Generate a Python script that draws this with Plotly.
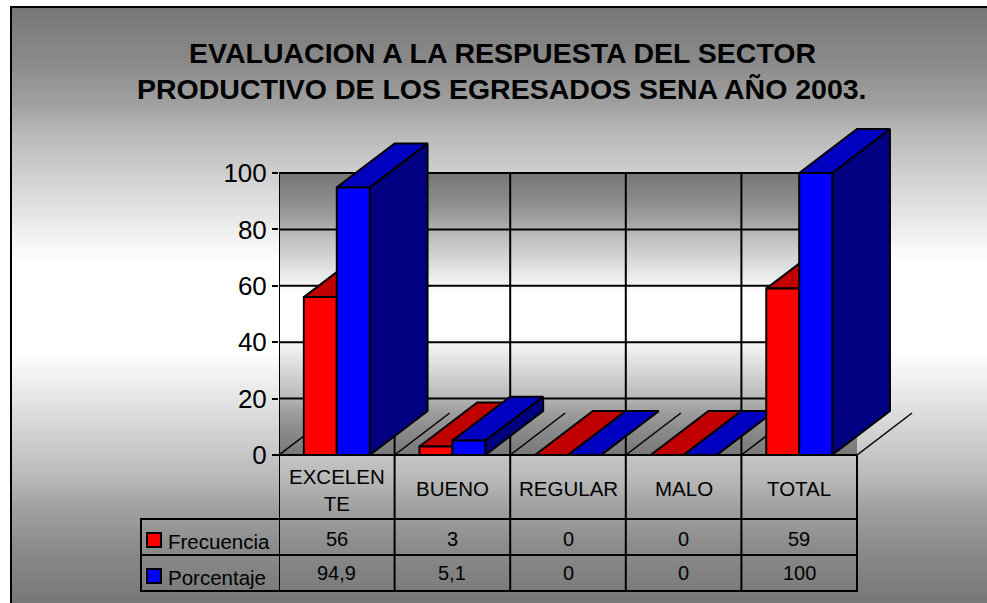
import plotly.graph_objects as go

categories = ["EXCELEN<br>TE", "BUENO", "REGULAR", "MALO", "TOTAL"]
frecuencia = [56, 3, 0, 0, 59]
porcentaje = [94.9, 5.1, 0, 0, 100]
frecuencia_labels = ["56", "3", "0", "0", "59"]
porcentaje_labels = ["94,9", "5,1", "0", "0", "100"]
y_ticks = [0, 20, 40, 60, 80, 100]
title_lines = ["EVALUACION A LA RESPUESTA DEL SECTOR",
               "PRODUCTIVO DE LOS EGRESADOS SENA AÑO 2003."]

W, H = 987, 603
L, WALL_R, WALL_T, B = 279, 857, 173, 455
R, T = 925, 120                 # plot area, big enough for the 3D depth
CAT_PX = (WALL_R - L) / 5
VAL_PX = (B - WALL_T) / 100
X_MAX = (R - L) / CAT_PX - 0.5
Y_MAX = (B - T) / VAL_PX
FONT = "Arial, Liberation Sans, sans-serif"
BAR_W = 0.285
DX, DY = 0.5, 15.6
FLOOR_DX, FLOOR_DY = 0.476, 14.9
GRAY = 119
RAMP = [(0, 0), (.18, .14), (.32, .30), (.42, .48), (.66, .77), (.85, 1), (1, 1)]


def px(x):
    return (x - L) / (R - L)


def py(y):
    return (B - y) / (B - T)


def gray_at(y, top, bottom):
    mid = (top + bottom) / 2
    d = max(0, min(1, 1 - abs(y - mid) / (mid - top)))
    for (a, va), (b, vb) in zip(RAMP, RAMP[1:]):
        if d <= b:
            t = va + (vb - va) * (d - a) / (b - a)
            break
    v = int(round(GRAY + (255 - GRAY) * t))
    return f"rgb({v},{v},{v})"


shapes = []
# page and wall gradients
for y in range(7, H, 2):
    shapes.append(dict(type="rect", xref="paper", yref="paper", layer="below",
                       x0=px(11), x1=px(W + 2), y0=py(y), y1=py(y + 2.5),
                       fillcolor=gray_at(y, 7, H), line_width=0))
for y in range(WALL_T, B, 2):
    shapes.append(dict(type="rect", xref="paper", yref="paper", layer="below",
                       x0=px(L), x1=px(WALL_R), y0=py(y), y1=py(min(y + 2.5, B)),
                       fillcolor=gray_at(y, WALL_T, B), line_width=0))


def hline(x0, x1, y, layer="above"):
    shapes.append(dict(type="line", xref="paper", yref="paper", x0=px(x0), x1=px(x1), layer=layer,
                       y0=py(y), y1=py(y), line=dict(color="black", width=2)))


def vline(x, y0, y1, xref="paper", layer="above"):
    shapes.append(dict(type="line", xref=xref, yref="paper", x0=x, x1=x, layer=layer,
                       y0=py(y0), y1=py(y1), line=dict(color="black", width=2)))


# wall grid (under the bars)
for v in y_ticks[1:]:
    shapes.append(dict(type="line", xref="x", yref="y", x0=-0.5, x1=4.5, y0=v, y1=v, layer="between",
                       line=dict(color="black", width=2)))
for i in range(len(categories)):
    vline(i - 0.5, WALL_T, B, xref="x", layer="between")

# chart frame
hline(10, W + 2, 7)
vline(px(11), 6, H + 2)
# data table
hline(L - 1, WALL_R + 1, B)
hline(141, WALL_R, 519)
hline(141, WALL_R, 555)
hline(141, WALL_R, 591)
vline(px(141), 518, 592)
for i in range(len(categories) + 1):
    vline(i - 0.5, B, 592, xref="x")
vline(-0.5, WALL_T - 1, B + 1, xref="x")

annotations = []
for line, y in zip(title_lines, [53, 89]):
    annotations.append(dict(text=f"<b>{line}</b>", xref="paper", yref="paper", x=px(502), y=py(y),
                            showarrow=False, xanchor="center", yanchor="middle",
                            font=dict(family=FONT, size=28.5, color="black")))
for i, (c, f, p) in enumerate(zip(categories, frecuencia_labels, porcentaje_labels)):
    annotations.append(dict(text=c, xref="x", yref="paper", x=i, y=py(490 if "<br>" in c else 488),
                            showarrow=False, xanchor="center", yanchor="middle",
                            font=dict(family=FONT, size=20.5, color="black")))
    for text, y in ((f, 539), (p, 573)):
        annotations.append(dict(text=text, xref="x", yref="paper", x=i, y=py(y),
                                showarrow=False, xanchor="center", yanchor="middle",
                                font=dict(family=FONT, size=20, color="black")))
for name, y, color in (("Frecuencia", 541, "#FF0000"), ("Porcentaje", 577, "#0000FF")):
    annotations.append(dict(text=name, xref="paper", yref="paper", x=px(166), y=py(y),
                            showarrow=False, xanchor="left", yanchor="middle",
                            font=dict(family=FONT, size=20.5, color="black")))
    shapes.append(dict(type="rect", xref="paper", yref="paper",
                       x0=px(147), x1=px(161), y0=py(y - 8), y1=py(y + 6),
                       fillcolor=color, line=dict(color="black", width=2)))

fig = go.Figure()

# floor lines
fx, fy = [], []
for i in range(len(categories) + 1):
    fx += [i - 0.5, i - 0.5 + FLOOR_DX, None]
    fy += [0, FLOOR_DY, None]
fig.add_trace(go.Scatter(x=fx, y=fy, mode="lines", line=dict(color="black", width=1.5),
                         hoverinfo="skip", showlegend=False, zorder=0))


def poly(xs, ys, color, z):
    fig.add_trace(go.Scatter(x=xs + xs[:1], y=ys + ys[:1], mode="lines", fill="toself", fillcolor=color,
                             line=dict(color="black", width=2),
                             hoverinfo="skip", showlegend=False, zorder=z))


series = [("Frecuencia", frecuencia, -BAR_W, "#FF0000", "#C00000", "#800000"),
          ("Porcentaje", porcentaje, 0.0, "#0000FF", "#0000C0", "#000080")]
for i in range(len(categories)):
    for s, (name, vals, off, front, top, side) in enumerate(series):
        v = vals[i]
        z = 1 + i * 6 + s * 3
        x0, x1 = i + off, i + off + BAR_W
        poly([x1, x1 + DX, x1 + DX, x1], [0, DY, v + DY, v], side, z)
        poly([x0, x1, x1 + DX, x0 + DX], [v, v, v + DY, v + DY], top, z + 1)
        fig.add_trace(go.Bar(x=[i], y=[v], offset=off, width=BAR_W, name=name,
                             marker=dict(color=front, line=dict(color="black", width=2)),
                             showlegend=False, zorder=z + 2))

fig.update_layout(
    width=W, height=H, autosize=False,
    margin=dict(l=L, r=W - R, t=T, b=H - B, pad=0),
    paper_bgcolor="white", plot_bgcolor="rgba(0,0,0,0)",
    barmode="overlay", showlegend=False,
    font=dict(family=FONT, color="black"),
    shapes=shapes, annotations=annotations,
    xaxis=dict(range=[-0.5, X_MAX], showticklabels=False, showgrid=False, ticks="",
               zeroline=False, showline=False, fixedrange=True),
    yaxis=dict(range=[0, Y_MAX], tickmode="array", tickvals=y_ticks, ticks="outside", ticklen=6,
               tickwidth=2, tickcolor="black", tickfont=dict(family=FONT, size=26, color="black"),
               showgrid=False, zeroline=False, showline=False, fixedrange=True),
)
fig.write_html("out.html", config=dict(displayModeBar=False),
               post_script="document.body.style.margin='0';document.documentElement.style.overflow='hidden';")
